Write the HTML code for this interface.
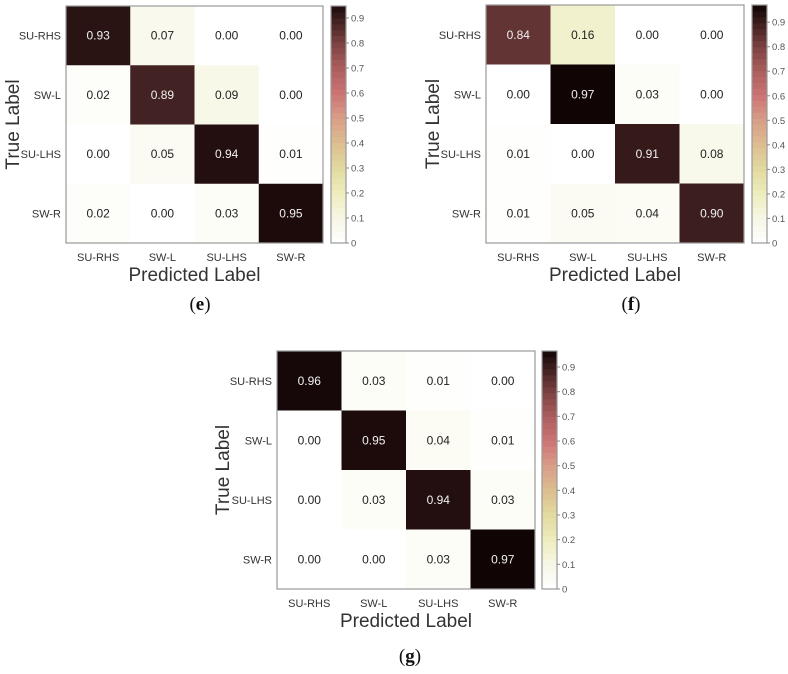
<!DOCTYPE html>
<html><head><meta charset="utf-8">
<style>
html,body{margin:0;padding:0;background:#fff;}
svg{display:block;}
text{font-family:"Liberation Sans",Arial,sans-serif;}
text.cap{font-family:"Liberation Serif","Times New Roman",serif;}
</style></head>
<body>
<svg id="chart" width="788" height="674" viewBox="0 0 788 674" xmlns="http://www.w3.org/2000/svg">
</svg>
<script>
const classLabels = ["SU-RHS","SW-L","SU-LHS","SW-R"];
const matrixE = [[0.93,0.07,0.00,0.00],[0.02,0.89,0.09,0.00],[0.00,0.05,0.94,0.01],[0.02,0.00,0.03,0.95]];
const matrixF = [[0.84,0.16,0.00,0.00],[0.00,0.97,0.03,0.00],[0.01,0.00,0.91,0.08],[0.01,0.05,0.04,0.90]];
const matrixG = [[0.96,0.03,0.01,0.00],[0.00,0.95,0.04,0.01],[0.00,0.03,0.94,0.03],[0.00,0.00,0.03,0.97]];
const colorbarTicks = [0,0.1,0.2,0.3,0.4,0.5,0.6,0.7,0.8,0.9];
const colorbarTickLabels = ["0","0.1","0.2","0.3","0.4","0.5","0.6","0.7","0.8","0.9"];
const captions = ["(e)","(f)","(g)"];

const NS = "http://www.w3.org/2000/svg";
const svg = document.getElementById('chart');
const stops = [[0,[255,255,255]],[0.1,[247,247,230]],[0.2,[238,237,190]],[0.3,[226,218,160]],[0.4,[220,190,144]],[0.5,[216,158,136]],[0.6,[204,116,116]],[0.7,[172,94,94]],[0.8,[124,66,66]],[0.9,[60,30,30]],[0.97,[16,4,4]]];
function cmap(v){
  for(let i=1;i<stops.length;i++){
    if(v<=stops[i][0]){
      const a=stops[i-1],b=stops[i];const t=(v-a[0])/(b[0]-a[0]);
      const c=a[1].map((x,k)=>Math.round(x+(b[1][k]-x)*t));
      return `rgb(${c[0]},${c[1]},${c[2]})`;
    }
  }
  const c=stops[stops.length-1][1];return `rgb(${c[0]},${c[1]},${c[2]})`;
}
function mk(tag,attrs,parent){const e=document.createElementNS(NS,tag);for(const k in attrs)e.setAttribute(k,attrs[k]);(parent||svg).appendChild(e);return e;}

function drawPanel(p){
  const g=mk('g',{});
  
  
  const cw=(p.x1-p.x0)/4, ch=(p.y1-p.y0)/4;
  const xScale=j=>p.x0+j*cw, yScale=i=>p.y0+i*ch;
  p.data.forEach((row,i)=>row.forEach((v,j)=>{
    const r=mk('rect',{x:xScale(j),y:yScale(i),width:cw+0.5,height:ch+0.5,fill:cmap(v)},g);
    
    
    const t=mk('text',{x:xScale(j)+cw/2,y:yScale(i)+ch/2+4,'text-anchor':'middle','font-size':'12',fill:v>0.5?'#f0f0f0':'#222'},g);
    t.textContent=v.toFixed(2);
    
    
  }));
  const fr=mk('rect',{x:p.x0,y:p.y0,width:p.x1-p.x0,height:p.y1-p.y0,fill:'none',stroke:'#999','stroke-width':'1.2'},g);
  
  
  classLabels.forEach((l,i)=>{
    const t=mk('text',{x:p.x0-5,y:yScale(i)+ch/2+4,'text-anchor':'end','font-size':'11',fill:'#333'},g);
    t.textContent=l;
    
    
    const u=mk('text',{x:xScale(i)+cw/2,y:p.y1+18,'text-anchor':'middle','font-size':'11',fill:'#333'},g);
    u.textContent=l;
    
    
  });
  const xt=mk('text',{x:(p.x0+p.x1)/2,y:p.y1+38,'text-anchor':'middle','font-size':'19',fill:'#333'},g);
  xt.textContent='Predicted Label';
  
  
  const ytx=p.ytx, yty=(p.y0+p.y1)/2;
  const yt=mk('text',{x:ytx,y:yty,'text-anchor':'middle','font-size':'19',fill:'#333',transform:`rotate(-90 ${ytx} ${yty})`},g);
  yt.textContent='True Label';
  
  
  const cbH=p.y1-p.y0;
  const cbScale=v=>p.y1-v/p.cbMax*cbH;
  const n=40;
  for(let k=0;k<n;k++){
    const v0=k/n*p.cbMax, v1=(k+1)/n*p.cbMax;
    const r=mk('rect',{x:p.cbx,y:cbScale(v1),width:15,height:cbScale(v0)-cbScale(v1)+0.6,fill:cmap((v0+v1)/2)},g);
    
    
  }
  const cf=mk('rect',{x:p.cbx,y:p.y0,width:15,height:cbH,fill:'none',stroke:'#999','stroke-width':'1.2'},g);
  
  
  colorbarTicks.forEach((v,k)=>{
    const y=cbScale(v);
    const tl=mk('line',{x1:p.cbx+15,x2:p.cbx+18,y1:y,y2:y,stroke:'#888'},g);
    
    
    const t=mk('text',{x:p.cbx+20,y:y+3.5,'font-size':'9.5',fill:'#555'},g);
    t.textContent=colorbarTickLabels[k];
    
    
  });
  const c=mk('text',{x:p.capx,y:p.capy,'text-anchor':'middle','font-size':'19',fill:'#111','class':'cap'},g);
  c.innerHTML='(<tspan font-weight="bold">'+p.cap.slice(1,-1)+'</tspan>)';
  
  
}
drawPanel({name:'panel-e',data:matrixE,x0:66,x1:323,y0:6,y1:243,cbx:331,cbMax:0.948,ytx:19,capx:200,capy:310,cap:captions[0]});
drawPanel({name:'panel-f',data:matrixF,x0:486,x1:744,y0:5,y1:243,cbx:752,cbMax:0.97,ytx:439,capx:631,capy:310,cap:captions[1]});
drawPanel({name:'panel-g',data:matrixG,x0:277,x1:535,y0:351,y1:589,cbx:542,cbMax:0.965,ytx:229,capx:410,capy:662,cap:captions[2]});
</script>
</body></html>
